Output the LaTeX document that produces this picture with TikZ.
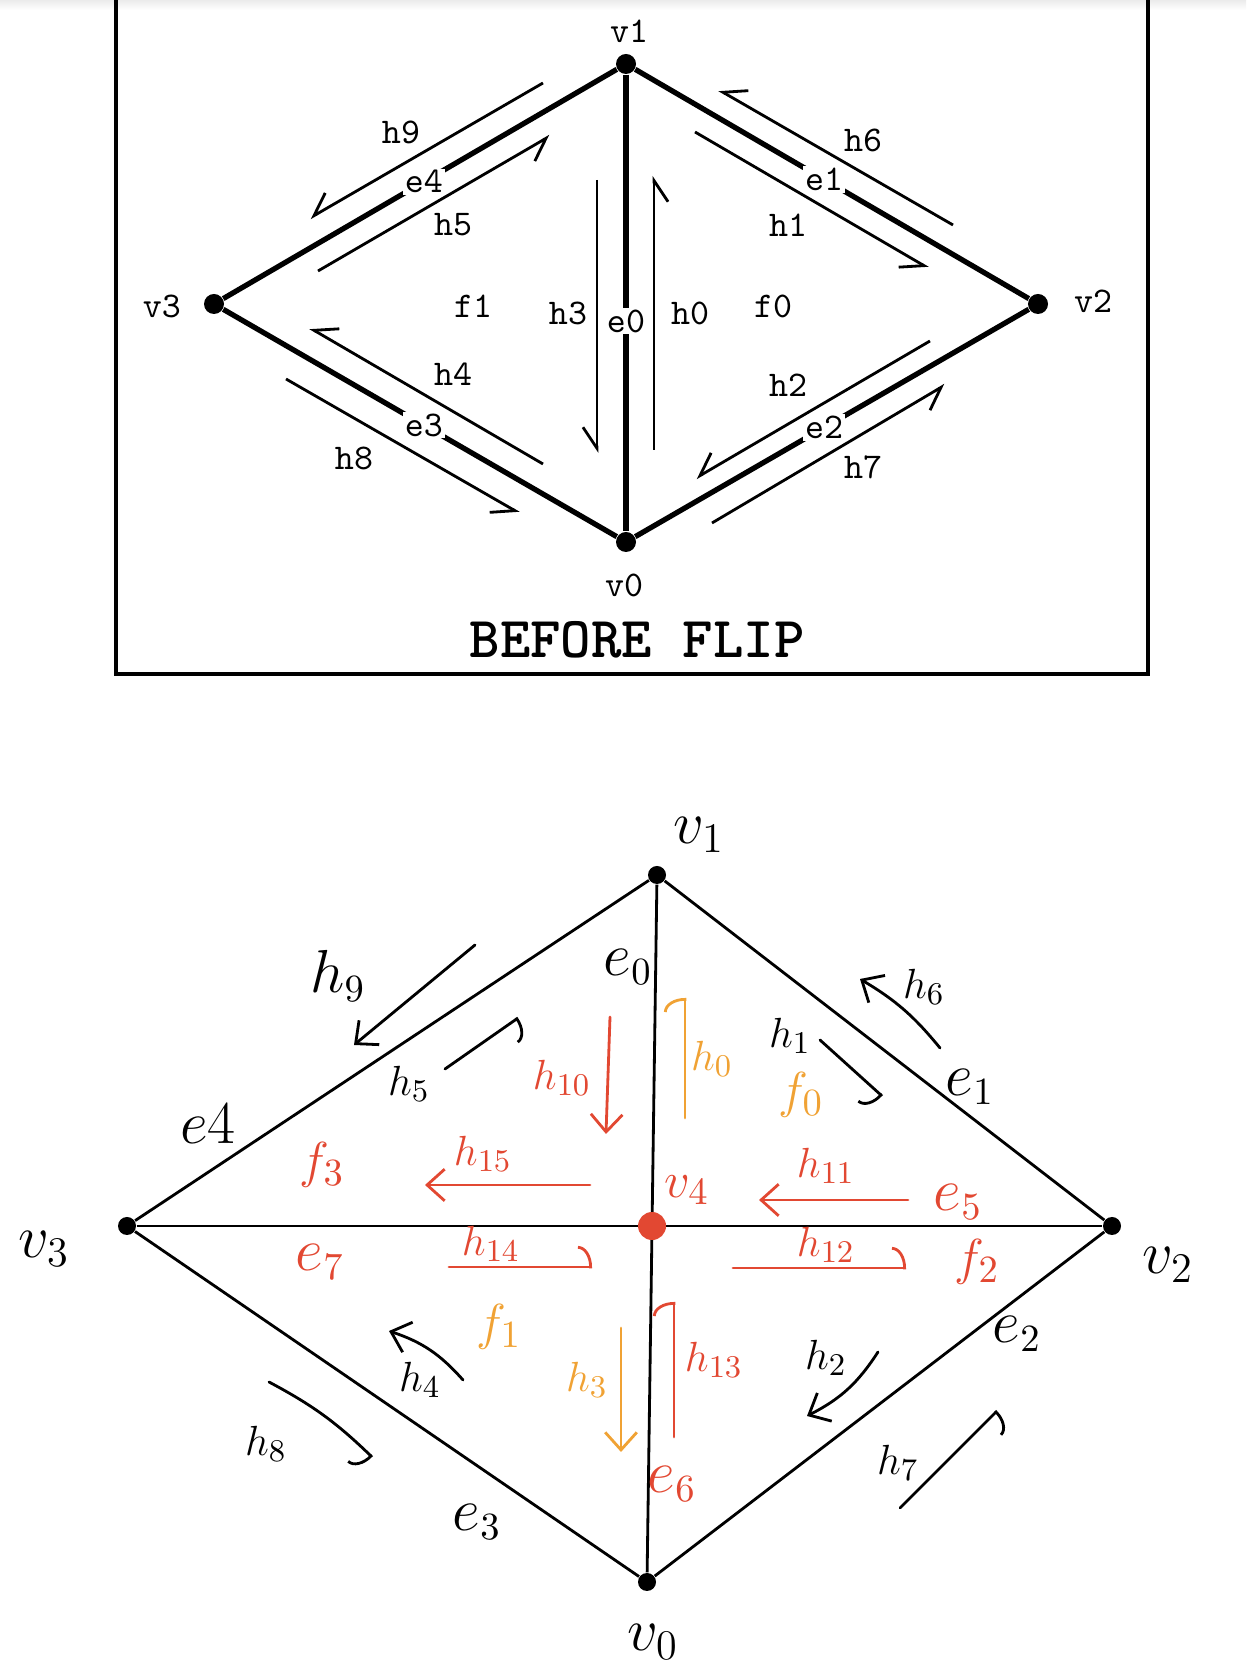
\documentclass[tikz,border=0pt]{standalone}
\usepackage{amsmath,amssymb}
\usepackage{fontspec}
\usepackage{xcolor}
\usepackage{tikz}
\usetikzlibrary{arrows.meta,calc,positioning}
\definecolor{penred}{RGB}{226,72,50}
\definecolor{penorange}{RGB}{240,162,52}

\begin{document}
\begin{tikzpicture}[
  vdot/.style={circle,fill=black,inner sep=0pt,minimum size=2mm},
  udot/.style={circle,fill=black,inner sep=0pt,minimum size=1.8mm},
  rim/.style={line width=1.5pt},
  tt/.style={font=\ttfamily\fontsize{10.3}{11}\selectfont,inner sep=1pt},
  elabel/.style={tt,fill=white,inner sep=0.5pt},
  halfedge/.style={line width=0.8pt,-{Straight Barb[right,length=6pt,width=8pt]}},
  pen/.style={line width=0.8pt,line cap=round},
  hand/.style={font=\fontsize{13}{15}\selectfont,inner sep=1pt},
  fhand/.style={font=\fontsize{15}{17}\selectfont,inner sep=1pt},
  bighand/.style={font=\fontsize{16}{18}\selectfont,inner sep=1pt},
  vhand/.style={font=\fontsize{18}{20}\selectfont,inner sep=1pt},
  veearrow/.style={pen,-{Straight Barb[length=5pt,width=9pt]}},
  hookleft/.style={pen,-{Arc Barb[left,length=4pt,width=12pt]}},
  hookright/.style={pen,-{Arc Barb[right,length=4pt,width=12pt]}}
]
\useasboundingbox (0,0) rectangle (12.46,16.74);
\begin{scope}
  \shade[top color=black!8,bottom color=white] (0,16.64) rectangle (12.46,16.74);
  \draw[line width=1.1pt] (1.16,16.9) -- (1.16,10.0) -- (11.48,10.0) -- (11.48,16.9);
  \node[vdot] (v1) at (6.26,16.10) {};
  \node[vdot] (v2) at (10.38,13.70) {};
  \node[vdot] (v3) at (2.14,13.70) {};
  \node[vdot] (v0) at (6.26,11.32) {};
  \draw[rim] (v3) -- node[elabel,pos=0.51] (e4) {e4} (v1);
  \draw[rim] (v1) -- node[elabel,pos=0.48] (e1) {e1} (v2);
  \draw[rim] (v3) -- node[elabel,pos=0.51] (e3) {e3} (v0);
  \draw[rim] (v0) -- node[elabel,pos=0.48] (e2) {e2} (v2);
  \draw[rim] (v1) -- node[elabel,pos=0.54] (e0) {e0} (v0);
  \node[tt] (l1) at (6.29,16.43) {v1};
  \node[tt] (l2) at (10.93,13.73) {v2};
  \node[tt] (l3) at (1.62,13.68) {v3};
  \node[tt] (l0) at (6.24,10.89) {v0};
  \node[font=\ttfamily\bfseries\fontsize{16.5}{18}\selectfont] (title) at (6.37,10.34) {BEFORE FLIP};
  \draw[halfedge] (5.43,15.91) -- (3.10,14.56);
  \draw[halfedge] (3.18,14.03) -- (5.50,15.38);
  \draw[halfedge] (6.95,15.42) -- (9.28,14.06);
  \draw[halfedge] (9.53,14.49) -- (7.19,15.84);
  \draw[halfedge] (5.97,14.94) -- (5.97,12.21);
  \draw[halfedge] (6.54,12.24) -- (6.54,14.98);
  \draw[halfedge] (5.43,12.10) -- (3.10,13.46);
  \draw[halfedge] (2.86,12.95) -- (5.19,11.61);
  \draw[halfedge] (9.30,13.33) -- (6.96,11.96);
  \draw[halfedge] (7.12,11.51) -- (9.45,12.89);
  \node[tt] (h9) at (4.01,15.42) {h9};
  \node[tt] (h6) at (8.63,15.34) {h6};
  \node[tt] (h5) at (4.53,14.49) {h5};
  \node[tt] (h1) at (7.88,14.49) {h1};
  \node[tt] (f1) at (4.73,13.68) {f1};
  \node[tt] (f0) at (7.73,13.68) {f0};
  \node[tt] (h3) at (5.68,13.61) {h3};
  \node[tt] (h0) at (6.90,13.61) {h0};
  \node[tt] (h4) at (4.53,13.00) {h4};
  \node[tt] (h2) at (7.88,12.89) {h2};
  \node[tt] (h8) at (3.54,12.16) {h8};
  \node[tt] (h7) at (8.63,12.07) {h7};
\end{scope}
\begin{scope}
  \node[udot] (u1) at (6.57,7.99) {};
  \node[udot] (u2) at (11.12,4.48) {};
  \node[udot] (u3) at (1.27,4.48) {};
  \node[udot] (u0) at (6.47,0.92) {};
  \coordinate (c) at (intersection of u1--u0 and u3--u2);
  \draw[line width=0.8pt] (u3) -- (u1) -- (u2);
  \draw[line width=0.8pt] (u3) -- (u0) -- (u2);
  \draw[line width=0.8pt] (u1) -- (u0);
  \draw[line width=0.8pt] (u3) -- (u2);
  \node[circle,fill=penred,inner sep=0pt,minimum size=2.8mm] (u4) at (c) {};
  \node[vhand] (k1) at (6.99,8.39) {$v_1$};
  \node[vhand] (k3) at (0.44,4.25) {$v_3$};
  \node[vhand] (k2) at (11.68,4.09) {$v_2$};
  \node[vhand] (k0) at (6.53,0.32) {$v_0$};
  \node[fhand,text=penred] (k4) at (6.87,4.84) {$v_4$};
  \node[bighand] (g0) at (6.28,7.07) {$e_0$};
  \node[bighand] (g4) at (2.08,5.50) {$e4$};
  \node[bighand] (g1) at (9.70,5.87) {$e_1$};
  \node[bighand] (g2) at (10.17,3.40) {$e_2$};
  \node[bighand] (g3) at (4.77,1.52) {$e_3$};
  \node[bighand,text=penred] (g5) at (9.58,4.72) {$e_5$};
  \node[bighand,text=penred] (g6) at (6.72,1.90) {$e_6$};
  \node[bighand,text=penred] (g7) at (3.20,4.12) {$e_7$};
  \node[fhand,text=penorange] (p0) at (8.01,5.79) {$f_0$};
  \node[fhand,text=penorange] (p1) at (4.99,3.47) {$f_1$};
  \node[fhand,text=penred] (p2) at (9.77,4.12) {$f_2$};
  \node[fhand,text=penred] (p3) at (3.22,5.09) {$f_3$};
  \node[bighand] (m9) at (3.38,6.98) {$h_9$};
  \node[hand] (m5) at (4.09,5.90) {$h_5$};
  \node[hand] (m1) at (7.90,6.38) {$h_1$};
  \node[hand] (m6) at (9.24,6.87) {$h_6$};
  \node[hand] (m4) at (4.20,2.94) {$h_4$};
  \node[hand] (m2) at (8.26,3.16) {$h_2$};
  \node[hand] (m8) at (2.66,2.30) {$h_8$};
  \node[hand] (m7) at (8.98,2.11) {$h_7$};
  \node[hand,text=penorange] (m0) at (7.12,6.15) {$h_0$};
  \node[hand,text=penorange] (m3) at (5.87,2.94) {$h_3$};
  \node[hand,text=penred] (m10) at (5.62,5.96) {$h_{10}$};
  \node[hand,text=penred] (m15) at (4.83,5.20) {$h_{15}$};
  \node[hand,text=penred] (m11) at (8.26,5.08) {$h_{11}$};
  \node[hand,text=penred] (m14) at (4.91,4.30) {$h_{14}$};
  \node[hand,text=penred] (m12) at (8.26,4.29) {$h_{12}$};
  \node[hand,text=penred] (m13) at (7.14,3.14) {$h_{13}$};
  \draw[veearrow] (4.75,7.29) -- (3.54,6.29);
  \draw[hookright] (4.45,6.05) -- (5.18,6.56);
  \draw[hookright] (8.20,6.34) -- (8.82,5.78);
  \draw[veearrow] (9.40,6.26) to[bend right=10] (8.60,6.95);
  \draw[veearrow] (4.63,2.94) to[bend right=15] (3.89,3.43);
  \draw[veearrow] (8.78,3.22) to[bend left=15] (8.07,2.58);
  \draw[hookright] (2.69,2.92) to[bend left=8] (3.72,2.17);
  \draw[hookright] (9.00,1.66) -- (9.97,2.63);
  \draw[veearrow,penred] (6.10,6.57) -- (6.06,5.40);
  \draw[hookleft,penorange] (6.85,5.56) -- (6.85,6.76);
  \draw[veearrow,penred] (5.90,4.89) -- (4.25,4.89);
  \draw[veearrow,penred] (9.08,4.74) -- (7.59,4.74);
  \draw[hookleft,penred] (4.49,4.07) -- (5.92,4.07);
  \draw[hookleft,penred] (7.33,4.06) -- (9.06,4.06);
  \draw[veearrow,penorange] (6.21,3.46) -- (6.21,2.22);
  \draw[hookleft,penred] (6.74,2.37) -- (6.74,3.72);
\end{scope}
\end{tikzpicture}
\end{document}
